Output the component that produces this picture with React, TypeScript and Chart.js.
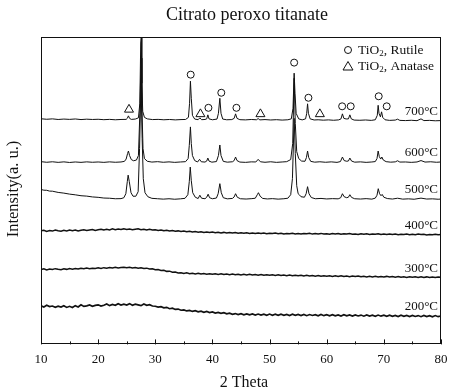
import React, { useEffect, useRef } from "react";
import { Chart, registerables } from "chart.js";

Chart.register(...registerables);

// ---------- data ----------
const chartTitle = "Citrato peroxo titanate";
const xTitle = "2 Theta";
const yTitle = "Intensity(a. u.)";
const xTickValues = [10, 20, 30, 40, 50, 60, 70, 80];
const xMinorTickValues = [15, 25, 35, 45, 55, 65, 75];
const seriesNames = ["700°C", "600°C", "500°C", "400°C", "300°C", "200°C"];
const legendRutile = ["TiO", "2", ", Rutile"];
const legendAnatase = ["TiO", "2", ", Anatase"];

const xrd700: [number, number][] = [
  [10, 224.6], [11, 224.1], [12, 224.5], [13, 223.9], [14, 224.3], [15, 224], [16, 224.4], [17, 223.8], [18, 224.2], [19, 223.9],
  [20, 224.1], [21, 223.7], [22, 224], [23, 223.6], [24, 223.9], [24.9, 224], [25.1, 225], [25.3, 227.5], [25.5, 225], [25.8, 224],
  [26.5, 224.3], [27.05, 225.5], [27.3, 240], [27.45, 300], [27.55, 306], [27.65, 260], [27.8, 232], [28.1, 226], [28.6, 224.5], [29.5, 223.8],
  [30.5, 224], [31.5, 223.6], [32.5, 223.9], [33.5, 223.5], [34.5, 223.8], [35.3, 223.9], [35.8, 226], [36.0, 240], [36.15, 262], [36.3, 245],
  [36.5, 228], [36.9, 224.3], [37.5, 223.7], [37.8, 225.5], [38.1, 223.7], [38.7, 223.9], [39.0, 224.5], [39.2, 228.5], [39.4, 224.5], [40.0, 223.6],
  [40.8, 224.3], [41.05, 230], [41.3, 245], [41.5, 230], [41.8, 224.3], [42.5, 223.6], [43.4, 223.8], [43.8, 225], [44.05, 229.5], [44.3, 225],
  [44.8, 223.7], [45.8, 223.5], [46.8, 223.9], [47.7, 223.6], [48.0, 224.8], [48.3, 223.5], [49.2, 223.8], [50.2, 223.4], [51.2, 223.7], [52.2, 223.3],
  [53.2, 223.6], [53.8, 224.5], [54.1, 235], [54.3, 270], [54.45, 250], [54.65, 230], [55.1, 224.5], [55.7, 223.5], [56.3, 224.5], [56.5, 230],
  [56.65, 239.5], [56.8, 230], [57.1, 224.5], [57.8, 223.4], [58.5, 223.6], [59.4, 223.2], [60.3, 223.5], [61.2, 223.1], [62.1, 223.5], [62.5, 224.5],
  [62.75, 229.5], [63.0, 225], [63.4, 224.4], [63.8, 224.5], [64.05, 228.5], [64.3, 224.5], [64.8, 223.3], [65.8, 223.1], [66.8, 223.4], [67.8, 223],
  [68.5, 223.6], [68.85, 228], [69.0, 238], [69.15, 230], [69.4, 226.5], [69.6, 231.5], [69.8, 226], [70.2, 223.6], [71.0, 223], [72.0, 223.3],
  [72.4, 224.2], [72.8, 223], [73.8, 222.8], [74.8, 223.1], [75.8, 222.7], [76.5, 224.5], [77.0, 222.8], [78, 223], [79, 222.6], [80, 222.8],
];

const xrd600: [number, number][] = [
  [10, 181.9], [11, 181.3], [12, 181.8], [13, 181.2], [14, 181.7], [15, 181.1], [16, 181.6], [17, 181.2], [18, 181.7], [19, 181.3],
  [20, 181.6], [21, 181.2], [22, 181.7], [23, 181.3], [24, 181.6], [24.6, 182.2], [24.9, 184.5], [25.15, 190], [25.3, 192.5], [25.5, 188],
  [25.8, 184], [26.2, 182.8], [26.7, 183.5], [27.05, 188], [27.3, 230], [27.5, 285], [27.65, 240], [27.85, 195], [28.1, 185], [28.6, 182.3],
  [29.4, 181.5], [30.4, 181.9], [31.4, 181.3], [32.4, 181.7], [33.4, 181.2], [34.4, 181.6], [35.3, 181.9], [35.75, 185], [35.95, 198], [36.15, 216.5],
  [36.3, 200], [36.5, 188], [36.9, 183], [37.4, 181.6], [37.75, 184.2], [38.05, 181.8], [38.7, 181.5], [39.0, 182.5], [39.2, 185.5], [39.4, 182.5],
  [39.9, 181.4], [40.7, 182], [41.05, 188], [41.3, 198.5], [41.5, 188], [41.9, 182.2], [42.6, 181.4], [43.5, 181.8], [43.8, 183], [44.05, 186.5],
  [44.3, 183], [44.8, 181.5], [45.8, 181.2], [46.8, 181.7], [47.6, 181.6], [48.0, 184.2], [48.4, 181.8], [49.2, 181.3], [50.2, 181.8], [51.2, 181.2],
  [52.2, 181.6], [53.0, 181.9], [53.7, 184], [54.05, 200], [54.3, 265], [54.5, 220], [54.75, 192], [55.1, 185], [55.6, 182.5], [56.2, 182.3],
  [56.45, 186], [56.65, 192.5], [56.85, 186], [57.2, 182.2], [57.9, 181.4], [58.8, 181.8], [59.8, 181.3], [60.8, 181.7], [61.8, 181.2], [62.4, 182],
  [62.75, 186.5], [63.05, 183], [63.5, 182.3], [63.8, 182.6], [64.05, 185.5], [64.35, 182.5], [64.9, 181.4], [65.9, 181.7], [66.9, 181.2], [67.9, 181.6],
  [68.5, 182], [68.8, 185], [69.0, 192.5], [69.2, 187], [69.45, 184.5], [69.65, 186.5], [69.9, 183.5], [70.4, 181.9], [71.2, 181.4], [72.0, 181.7],
  [72.4, 182.8], [72.8, 181.5], [73.8, 181.6], [74.8, 181.2], [75.8, 181.6], [76.5, 183], [77.2, 181.5], [78.2, 181.8], [79.2, 181.3], [80, 181.6],
];

const xrd500: [number, number][] = [
  [10, 154.2], [10.5, 153.5], [11, 153.4], [11.5, 152.6], [12, 152.5], [13, 151.3], [14, 150.6], [15, 149.6], [16, 148.9], [17, 148.0],
  [18, 147.6], [19, 146.8], [20, 146.4], [21, 145.7], [22, 145.5], [23, 145.0], [24, 145.1], [24.5, 146], [24.85, 150], [25.1, 162],
  [25.25, 168.5], [25.45, 162], [25.75, 151], [26.1, 147.5], [26.6, 147.5], [27.0, 152], [27.25, 195], [27.5, 262], [27.7, 205], [27.9, 165],
  [28.2, 151], [28.7, 147], [29.4, 145.4], [30.4, 145], [31.4, 144.6], [32.4, 145], [33.4, 144.5], [34.4, 144.9], [35.2, 145.4], [35.7, 149],
  [35.95, 162], [36.12, 176.5], [36.3, 163], [36.55, 151], [37.0, 146.5], [37.5, 145.2], [37.8, 148.5], [38.1, 145.5], [38.7, 145], [39.0, 146.5],
  [39.25, 149.5], [39.5, 146], [40.0, 145], [40.7, 145.7], [41.0, 150], [41.3, 160], [41.55, 151], [41.9, 146], [42.6, 144.9], [43.5, 145.3],
  [43.8, 146.8], [44.05, 150], [44.35, 146.5], [44.9, 145], [45.9, 144.7], [46.9, 145.1], [47.5, 145.5], [47.85, 149], [48.05, 151], [48.35, 147.5],
  [48.8, 145.3], [49.6, 144.8], [50.5, 145.1], [51.5, 144.6], [52.5, 145], [53.2, 145.5], [53.7, 149], [54.0, 165], [54.3, 225], [54.5, 190],
  [54.75, 158], [55.0, 150], [55.2, 149], [55.5, 147], [56.1, 146.5], [56.4, 150], [56.65, 157], [56.9, 150], [57.3, 146.2], [58.0, 145],
  [59.0, 145.3], [60.0, 144.8], [61.0, 145.1], [62.0, 144.9], [62.45, 146], [62.75, 150], [63.05, 147], [63.5, 146], [63.8, 146.5], [64.05, 149],
  [64.35, 146.3], [64.9, 145], [65.9, 144.7], [66.9, 145.1], [67.9, 144.6], [68.5, 145.6], [68.8, 148.5], [69.02, 155], [69.25, 150], [69.5, 148],
  [69.7, 149.3], [70.0, 146.5], [70.6, 145.2], [71.5, 144.7], [72.4, 145.5], [73.3, 144.6], [74.3, 144.9], [75.3, 144.5], [76.5, 145.6], [77.5, 144.7],
  [78.5, 144.9], [79.5, 144.5], [80, 144.7],
];

// amorphous samples, recorded every 0.5° from 10° to 80°
const amorphousTheta = Array.from({ length: 141 }, (_, i) => 10 + i * 0.5);

const xrd400 = [
  113.0, 113.6, 112.5, 113.3, 112.8, 113.9, 113.1, 112.6, 113.5, 113.0,
  113.8, 113.2, 113.9, 112.9, 113.6, 114.2, 113.4, 113.9, 114.4, 113.5,
  114.1, 114.7, 113.8, 114.5, 114.0, 115.0, 114.2, 114.8, 114.3, 115.1,
  114.4, 114.9, 114.1, 114.7, 115.0, 114.2, 114.6, 113.9, 114.5, 113.8,
  114.1, 113.4, 113.9, 113.1, 113.5, 112.8, 113.3, 112.6, 113.0, 112.4,
  112.8, 112.1, 112.6, 111.9, 112.3, 111.7, 112.2, 111.5, 111.9, 111.3,
  111.8, 111.2, 111.6, 111.0, 111.5, 110.8, 111.3, 110.9, 111.4, 110.7,
  111.1, 110.6, 111.2, 110.5, 110.9, 110.3, 110.8, 110.4, 110.9, 110.2,
  110.7, 110.3, 110.8, 110.1, 110.6, 110.0, 110.5, 110.2, 110.7, 110.0,
  110.4, 109.9, 110.5, 110.1, 110.6, 109.8, 110.3, 110.0, 110.5, 109.8,
  110.2, 109.7, 110.3, 109.9, 110.4, 109.6, 110.1, 109.8, 110.3, 109.6,
  110.0, 109.5, 110.2, 109.7, 110.1, 109.4, 109.9, 109.6, 110.1, 109.4,
  109.8, 109.3, 110.0, 109.5, 109.9, 109.2, 109.7, 109.4, 109.9, 109.2,
  109.6, 109.1, 109.8, 109.3, 109.7, 109.0, 109.5, 109.2, 109.7, 109.1,
  109.4,
];

const xrd300 = [
  74.6, 75.3, 74.2, 75.0, 74.5, 75.4, 74.8, 74.3, 75.2, 74.7,
  75.5, 74.9, 75.6, 75.0, 75.8, 75.3, 76.0, 75.4, 75.9, 75.5,
  76.2, 75.6, 76.4, 75.9, 76.6, 76.0, 76.8, 76.1, 76.5, 76.9,
  76.2, 76.7, 76.0, 76.6, 75.8, 76.3, 75.6, 75.9, 75.0, 75.3,
  74.4, 74.6, 73.6, 73.8, 72.7, 72.9, 71.8, 72.1, 71.2, 71.4,
  70.6, 71.2, 70.4, 70.9, 70.1, 70.7, 70.0, 70.6, 69.9, 70.4,
  69.8, 70.4, 69.7, 70.2, 69.5, 70.1, 69.4, 70.0, 69.3, 69.9,
  69.2, 69.8, 69.1, 69.7, 69.0, 69.6, 68.9, 69.5, 68.8, 69.4,
  68.8, 69.3, 68.6, 69.2, 68.5, 69.1, 68.4, 69.0, 68.3, 68.9,
  68.3, 68.8, 68.1, 68.7, 68.0, 68.6, 67.9, 68.5, 67.8, 68.4,
  67.9, 68.4, 67.7, 68.3, 67.6, 68.2, 67.5, 68.1, 67.4, 68.0,
  67.5, 68.0, 67.3, 67.9, 67.2, 67.8, 67.1, 67.7, 67.0, 67.6,
  67.2, 67.7, 67.0, 67.6, 66.9, 67.5, 66.8, 67.4, 66.7, 67.3,
  66.9, 67.4, 66.7, 67.3, 66.6, 67.2, 66.5, 67.1, 66.5, 67.0,
  66.8,
];

const xrd200 = [
  38.5, 37.2, 38.9, 37.6, 38.2, 36.9, 38.0, 37.1, 38.4, 36.8,
  37.9, 36.7, 38.6, 37.3, 39.5, 37.8, 38.3, 39.2, 37.9, 38.8,
  39.4, 38.1, 39.0, 40.2, 38.6, 39.7, 38.9, 40.4, 39.1, 40.0,
  39.2, 40.6, 39.0, 40.1, 39.4, 38.6, 40.3, 38.9, 39.5, 38.2,
  38.0, 37.1, 37.6, 36.4, 36.9, 35.5, 36.0, 34.8, 35.2, 34.0,
  34.4, 33.3, 33.9, 32.8, 33.5, 32.5, 33.1, 32.0, 32.8, 31.7,
  32.3, 31.2, 31.8, 30.9, 31.5, 30.4, 31.1, 30.0, 30.7, 29.6,
  30.6, 29.5, 30.4, 29.4, 30.3, 29.2, 30.2, 29.1, 30.1, 29.0,
  30.2, 29.0, 30.0, 28.9, 30.1, 29.0, 29.9, 28.8, 30.0, 28.9,
  29.8, 28.7, 29.9, 28.6, 29.7, 28.8, 29.6, 28.5, 29.8, 28.6,
  29.5, 28.4, 29.6, 28.5, 29.4, 28.3, 29.5, 28.4, 29.3, 28.2,
  29.4, 28.3, 29.2, 28.1, 29.3, 28.2, 29.1, 28.0, 29.2, 28.1,
  29.0, 27.9, 29.1, 28.0, 28.9, 27.8, 29.0, 27.9, 28.8, 27.7,
  28.9, 27.8, 28.7, 27.6, 28.8, 27.7, 28.6, 27.5, 28.7, 27.6,
  28.3,
];

// phase markers above the 700 °C pattern
const rutileMarks: [number, number][] = [
  [27.55, 312.5], [36.2, 268.5], [39.3, 235.5], [41.55, 250.5], [44.2, 235.5], [54.3, 280.5],
  [56.8, 245.5], [62.7, 237], [64.2, 237], [69.1, 247], [70.5, 237],
];
const anataseMarks: [number, number][] = [
  [25.4, 233.8], [37.9, 229.3], [48.4, 229.3], [58.8, 229.3],
];

const X_MIN = 10;
const X_MAX = 80;
const Y_MIN = 0;
const Y_MAX = 306;

// ---------- styling ----------
const FONT = '"Liberation Serif", "Times New Roman", serif';
const INK = "#111";

function pairs(arr: [number, number][]) {
  return arr.map(([x, y]) => ({ x, y }));
}
function zipped(xs: number[], ys: number[]) {
  return ys.map((y, i) => ({ x: xs[i], y }));
}

const decorPlugin = {
  id: "decor",
  afterDraw(chart: any) {
    const { ctx, chartArea } = chart;
    const xs = chart.scales.x;
    const ys = chart.scales.y;
    const { left, right, top, bottom } = chartArea;
    ctx.save();
    ctx.strokeStyle = INK;
    ctx.fillStyle = INK;
    ctx.lineWidth = 1;
    // frame
    ctx.strokeRect(Math.round(left) + 0.5, Math.round(top) + 0.5, Math.round(right - left) - 1, Math.round(bottom - top) - 1);
    // inward ticks on bottom axis
    ctx.beginPath();
    xTickValues.forEach((v) => {
      const px = Math.round(xs.getPixelForValue(v)) + 0.5;
      ctx.moveTo(px, bottom);
      ctx.lineTo(px, bottom - 5);
    });
    xMinorTickValues.forEach((v) => {
      const px = Math.round(xs.getPixelForValue(v)) + 0.5;
      ctx.moveTo(px, bottom);
      ctx.lineTo(px, bottom - 3);
    });
    ctx.stroke();

    // title
    ctx.textAlign = "center";
    ctx.textBaseline = "middle";
    ctx.font = `18px ${FONT}`;
    ctx.fillText(chartTitle, 247, 15);
    // x title
    ctx.font = `16px ${FONT}`;
    ctx.fillText(xTitle, 244, 383);
    // y title
    ctx.save();
    ctx.translate(14, 189);
    ctx.rotate(-Math.PI / 2);
    ctx.font = `16.5px ${FONT}`;
    ctx.fillText(yTitle, 0, 0);
    ctx.restore();

    // series labels
    ctx.font = `13px ${FONT}`;
    ctx.textAlign = "right";
    ctx.textBaseline = "middle";
    const lastVals = [
      xrd700[xrd700.length - 1][1],
      xrd600[xrd600.length - 1][1],
      xrd500[xrd500.length - 1][1],
      xrd400[xrd400.length - 1],
      xrd300[xrd300.length - 1],
      xrd200[xrd200.length - 1],
    ];
    seriesNames.forEach((name, i) => {
      const py = ys.getPixelForValue(lastVals[i]) - 9;
      ctx.fillText(name, right - 3, py);
    });

    // legend
    const drawLegendText = (parts: string[], x: number, y: number) => {
      ctx.textAlign = "left";
      ctx.textBaseline = "middle";
      ctx.font = `13.5px ${FONT}`;
      ctx.fillText(parts[0], x, y);
      let cx = x + ctx.measureText(parts[0]).width;
      ctx.font = `9px ${FONT}`;
      ctx.fillText(parts[1], cx, y + 4);
      cx += ctx.measureText(parts[1]).width;
      ctx.font = `13.5px ${FONT}`;
      ctx.fillText(parts[2], cx, y);
    };
    ctx.lineWidth = 1;
    ctx.beginPath();
    ctx.arc(348, 50, 3.5, 0, Math.PI * 2);
    ctx.stroke();
    drawLegendText(legendRutile, 358, 50);
    ctx.beginPath();
    ctx.moveTo(348, 61.5);
    ctx.lineTo(353, 70);
    ctx.lineTo(343, 70);
    ctx.closePath();
    ctx.stroke();
    drawLegendText(legendAnatase, 358, 66);
    ctx.restore();
  },
};

export default function App() {
  const canvasRef = useRef<HTMLCanvasElement | null>(null);

  useEffect(() => {
    const canvas = canvasRef.current;
    if (!canvas) return;
    const lineStyle = (w: number) => ({
      borderColor: INK,
      borderWidth: w,
      pointRadius: 0,
      tension: 0,
      fill: false,
    });
    const chart = new Chart(canvas, {
      type: "line",
      data: {
        datasets: [
          { label: "700", data: pairs(xrd700), ...lineStyle(1) },
          { label: "600", data: pairs(xrd600), ...lineStyle(1) },
          { label: "500", data: pairs(xrd500), ...lineStyle(1) },
          { label: "400", data: zipped(amorphousTheta, xrd400), ...lineStyle(1.5) },
          { label: "300", data: zipped(amorphousTheta, xrd300), ...lineStyle(1.5) },
          { label: "200", data: zipped(amorphousTheta, xrd200), ...lineStyle(1.7) },
          {
            label: "Rutile",
            data: pairs(rutileMarks),
            showLine: false,
            pointStyle: "circle",
            pointRadius: 3.5,
            pointBorderWidth: 1,
            pointBorderColor: INK,
            pointBackgroundColor: "rgba(255,255,255,0)",
            clip: false,
          } as any,
          {
            label: "Anatase",
            data: pairs(anataseMarks),
            showLine: false,
            pointStyle: "triangle",
            pointRadius: 5.2,
            pointBorderWidth: 1,
            pointBorderColor: INK,
            pointBackgroundColor: "rgba(255,255,255,0)",
            clip: false,
          } as any,
        ],
      },
      options: {
        responsive: false,
        animation: false,
        events: [],
        layout: { padding: { left: 41, right: 10, top: 37, bottom: 18 } },
        plugins: {
          legend: { display: false },
          tooltip: { enabled: false },
          title: { display: false },
        },
        scales: {
          x: {
            type: "linear",
            min: X_MIN,
            max: X_MAX,
            grid: { display: false, drawTicks: false },
            border: { display: false },
            afterFit: (scale: any) => {
              scale.paddingLeft = 0;
              scale.paddingRight = 0;
            },
            ticks: {
              stepSize: 10,
              padding: 7,
              color: INK,
              font: { family: FONT, size: 13 },
              maxRotation: 0,
              callback: (v: any) => String(v),
            },
          },
          y: {
            type: "linear",
            min: Y_MIN,
            max: Y_MAX,
            display: false,
          },
        },
      },
      plugins: [decorPlugin],
    } as any);
    return () => chart.destroy();
  }, []);

  return (
    <div style={{ position: "fixed", left: 0, top: 0, width: 451, height: 392, background: "#fff" }}>
      <canvas ref={canvasRef} width={451} height={392} style={{ display: "block" }} />
    </div>
  );
}
